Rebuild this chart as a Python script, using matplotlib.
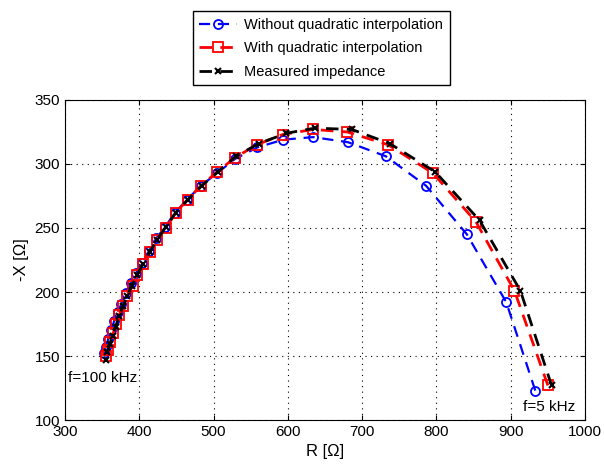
import numpy as np
import matplotlib.pyplot as plt

plt.rcParams['font.family'] = ['Liberation Sans', 'DejaVu Sans']

# impedance points, from 5 kHz (right) to 100 kHz (left)
r_without = [933, 894, 841, 786, 732, 681, 634, 594, 559, 529, 505, 483, 464, 448,
             435, 423, 413, 404, 396, 389, 382, 376, 371, 366, 362, 358, 355, 352]
x_without = [123, 192, 245, 283, 306, 317, 321, 319, 313, 304, 293, 283, 272, 262,
             251, 242, 232, 223, 215, 207, 199, 191, 184, 177, 170, 163, 157, 152]

r_with = [950, 905, 853, 795, 735, 680, 634, 593, 558, 529, 505, 483, 465, 449,
          436, 424, 414, 405, 397, 391, 384, 378, 373, 369, 365, 361, 358, 355]
x_with = [127, 201, 255, 293, 315, 325, 327, 323, 315, 305, 294, 283, 272, 262,
          250, 241, 231, 222, 213, 205, 197, 189, 182, 175, 168, 161, 155, 150]

r_meas = [955, 913, 858, 798, 737, 686, 636, 598, 561, 530, 506, 484, 465, 449,
          436, 424, 414, 405, 397, 390, 384, 378, 373, 368, 364, 360, 357, 355]
x_meas = [127, 201, 256, 294, 316, 327, 328, 324, 316, 306, 294, 283, 272, 262,
          251, 241, 231, 222, 213, 205, 197, 189, 181, 173, 166, 159, 153, 147]

fig = plt.figure(figsize=(6.04, 4.67), dpi=100)
ax = fig.add_axes([0.1076, 0.1006, 0.861, 0.6853])

ax.plot(r_without, x_without, '--o', color='blue', lw=1.6, ms=6.5, mfc='none', mew=1.3,
        dashes=(5, 3.5), label='Without quadratic interpolation')
ax.plot(r_with, x_with, '--s', color='red', lw=2, ms=7.5, mfc='none', mew=1.3,
        dashes=(4.5, 3), label='With quadratic interpolation')
ax.plot(r_meas, x_meas, '--x', color='black', lw=2, ms=4, mew=1.5,
        dashes=(4.5, 3), label='Measured impedance')

ax.text(304, 133, 'f=100 kHz', fontsize=11, va='center')
ax.text(916, 110, 'f=5 kHz', fontsize=11, va='center')

ax.set_xlim(300, 1000)
ax.set_ylim(100, 350)
ax.set_xticks(np.arange(300, 1001, 100))
ax.set_yticks(np.arange(100, 351, 50))
ax.grid(True, ls=(0, (1, 4)), color='black', lw=0.8)
ax.tick_params(direction='in', top=True, right=True, labelsize=11)
ax.set_xlabel('R [Ω]', fontsize=12)
ax.set_ylabel('-X [Ω]', fontsize=12)

fig.legend(loc='upper center', bbox_to_anchor=(0.532, 0.976), fontsize=10.5,
           fancybox=False, edgecolor='black', framealpha=1, handlelength=2.6,
           handletextpad=0.5, borderpad=0.45, labelspacing=0.65, borderaxespad=0)

fig.savefig('out.png', dpi=100)
